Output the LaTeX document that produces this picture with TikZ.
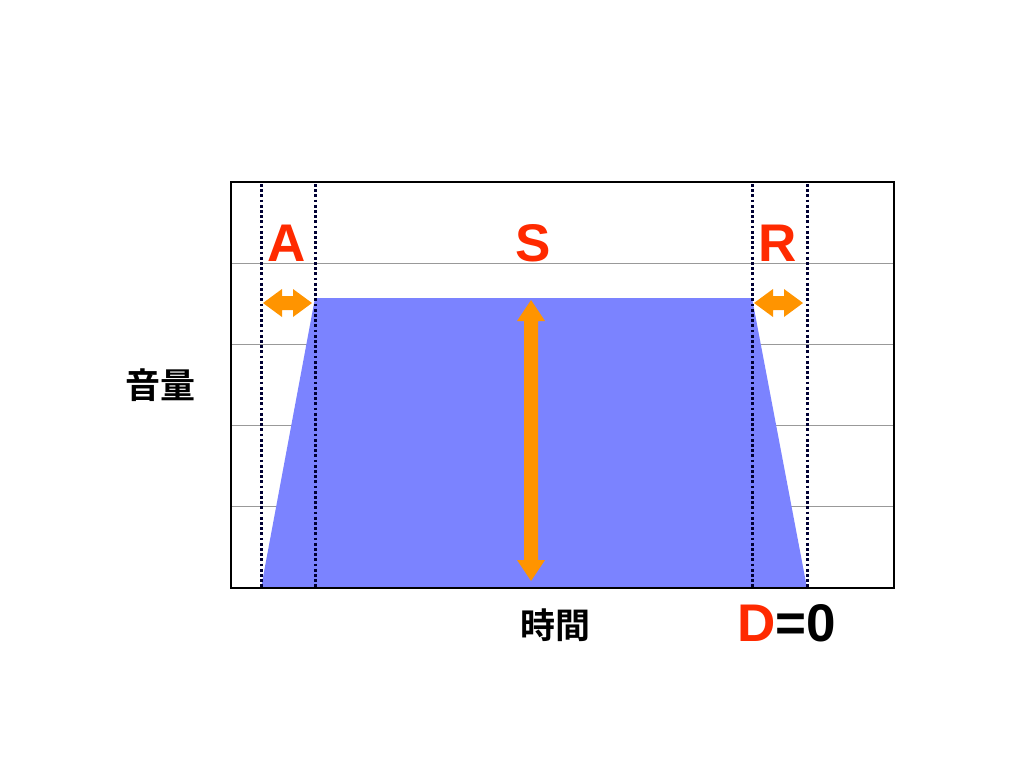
\documentclass[tikz,border=0pt]{standalone}
\usepackage{fontspec}
\setmainfont{Liberation Sans}
\newfontfamily\jpfont{Noto Sans CJK JP}[BoldFont={* Bold}]
\begin{document}
\begin{tikzpicture}[x=1pt,y=-1pt,
  lbl/.style={font=\fontsize{53}{53}\selectfont\bfseries, text=redlab, inner sep=0pt, anchor=base},
  jp/.style={font=\fontsize{35}{35}\selectfont\jpfont\bfseries, inner sep=0pt},
  grid/.style={draw=gray!80, line width=0.8pt},
  dots/.style={draw=black!80!blue, line width=3pt, dash pattern=on 2.8pt off 2.4pt},
  arr/.style={fill=orangearr, draw=none}]
\definecolor{redlab}{HTML}{FF2A00}
\definecolor{orangearr}{HTML}{FF9400}
\definecolor{area}{HTML}{7B83FF}
\useasboundingbox (0,0) rectangle (1024,768);
\fill[white] (0,0) rectangle (1024,768);
% grid
\foreach \yy in {263,344,425,506} \draw[grid] (231,\yy) -- (894,\yy);
% envelope
\fill[area] (261,588) -- (315,298) -- (752,298) -- (807,588) -- cycle;
% dotted verticals
\foreach \xx in {261,315,752,807} \draw[dots] (\xx,184) -- (\xx,587);
% frame
\draw[line width=2pt] (231,182) rectangle (894,588);
% S arrow
\fill[arr] (531,300) -- (545,321) -- (538,321) -- (538,560) -- (545,560) -- (531,581)
  -- (517,560) -- (524,560) -- (524,321) -- (517,321) -- cycle;
% A and R double arrows
\foreach \xl/\xr in {263/312,754/803}{
  \fill[arr] (\xl,303) -- (\xl+19,289) -- (\xl+19,296) -- (\xr-19,296) -- (\xr-19,289)
    -- (\xr,303) -- (\xr-19,317) -- (\xr-19,310) -- (\xl+19,310) -- (\xl+19,317) -- cycle;
}
% labels
\node[lbl] (A) at (287,261) {A};
\node[lbl] (S) at (533,261) {S};
\node[lbl] (R) at (778,261) {R};
\node[jp] (vol) at (160,385) {音量};
\node[jp] (time) at (555,625) {時間};
\node[lbl, anchor=base west, text=black] (D) at (737,641) {\textcolor{redlab}{D}=0};
\end{tikzpicture}
\end{document}
